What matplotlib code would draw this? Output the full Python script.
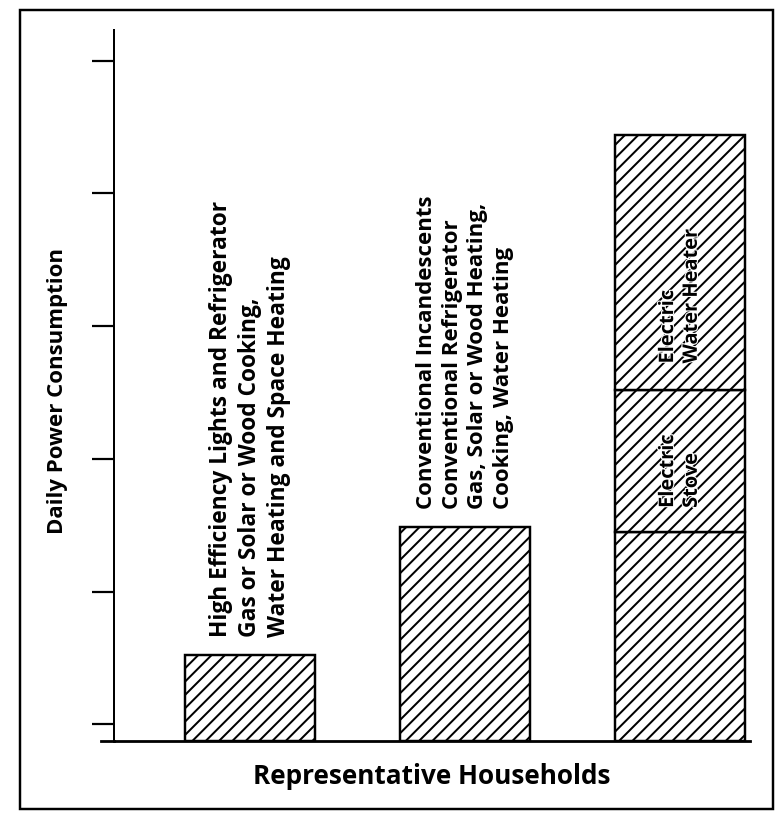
import numpy as np
import matplotlib
matplotlib.use('Agg')
import matplotlib.pyplot as plt
from matplotlib import rc
from matplotlib.patches import Rectangle
import matplotlib.patheffects as pe

rc('font', **{'family': 'sans-serif', 'sans-serif': ['Open Sans', 'DejaVu Sans'], 'weight': 'bold'})
rc('hatch', linewidth=1.8)

# bar heights in tick units (no numeric labels on the axis)
households = [0, 1, 2]
base_load = [0.65, 1.61, 1.57]
stove_load = [0.0, 0.0, 1.07]
heater_load = [0.0, 0.0, 1.92]
tick_values = [0.13, 1.12, 2.12, 3.12, 4.12, 5.12]

bar_labels = [
    'High Efficiency Lights and Refrigerator\nGas or Solar or Wood Cooking,\nWater Heating and Space Heating',
    'Conventional Incandescents\nConventional Refrigerator\nGas, Solar or Wood Heating,\nCooking, Water Heating',
]
label_sizes = [20.5, 20]
stove_label = 'Electric\nStove'
heater_label = 'Electric\nWater Heater'

if __name__ == '__main__':
    fig = plt.figure(figsize=(9.75, 10.2), dpi=80)
    W, H = 780, 816
    ax = fig.add_axes([114 / W, 1 - 741 / H, (750 - 114) / W, (741 - 30) / H])

    x = np.array(households)
    base = np.array(base_load)
    stove = np.array(stove_load)
    heater = np.array(heater_load)
    width = 0.605
    kw = dict(color='white', edgecolor='black', hatch='//', linewidth=2.2)
    ax.bar(x, base, width, **kw)
    ax.bar(x[2], stove[2], width, bottom=base[2], **kw)
    ax.bar(x[2], heater[2], width, bottom=base[2] + stove[2], **kw)

    for i, lab in enumerate(bar_labels):
        ax.annotate(lab, (x[i], base[i]), xytext=(0, 16), textcoords='offset points',
                    rotation=90, ha='center', va='bottom', multialignment='left',
                    fontsize=label_sizes[i], linespacing=1.3)

    halo = [pe.withStroke(linewidth=2, foreground='white')]
    ax.annotate(stove_label, (x[2], base[2]), xytext=(0, 22), textcoords='offset points',
                rotation=90, ha='center', va='bottom', multialignment='left',
                fontsize=18, linespacing=1.25, path_effects=halo)
    ax.annotate(heater_label, (x[2], base[2] + stove[2]), xytext=(0, 24), textcoords='offset points',
                rotation=90, ha='center', va='bottom', multialignment='left',
                fontsize=18, linespacing=1.25, path_effects=halo)

    ax.set_xlim(-0.633, 2.326)
    ax.set_ylim(0, 5.35)
    ax.set_xticks([])
    ax.set_yticks(tick_values)
    ax.set_yticklabels([])
    ax.tick_params(axis='y', direction='out', length=20, width=2)
    for s in ['top', 'right']:
        ax.spines[s].set_visible(False)
    ax.spines['left'].set_linewidth(1.8)
    ax.spines['bottom'].set_linewidth(2.5)
    ax.plot([-0.02, 0], [0, 0], transform=ax.transAxes, color='black', lw=2.5, clip_on=False)

    fig.text(58 / W, 1 - 391 / H, 'Daily Power Consumption', rotation=90,
             ha='center', va='center', fontsize=20)
    fig.text(432 / W, 1 - 776 / H, 'Representative Households',
             ha='center', va='center', fontsize=23.5)

    fig.patches.append(Rectangle((20 / W, 1 - 809 / H), (773 - 20) / W, (809 - 10) / H,
                                 transform=fig.transFigure, fill=False, lw=2.2, edgecolor='black'))

    plt.savefig('out.png', dpi=80)
